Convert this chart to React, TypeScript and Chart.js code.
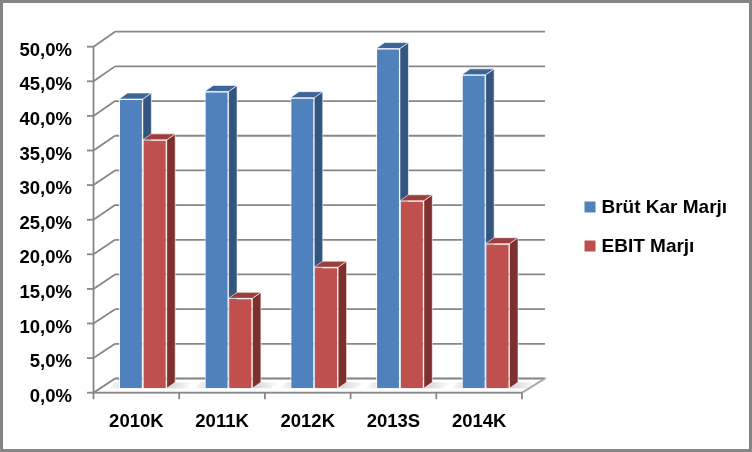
import React, { useEffect, useRef } from "react";
import { Chart, registerables } from "chart.js";

Chart.register(...registerables);

const categories = ["2010K", "2011K", "2012K", "2013S", "2014K"];
const brutKarMarji = [41.8, 42.9, 42.0, 49.1, 45.3];
const ebitMarji = [35.9, 13.0, 17.5, 27.1, 20.9];
const seriesNames = ["Brüt Kar Marjı", "EBIT Marjı"];
const yTickLabels = ["0,0%", "5,0%", "10,0%", "15,0%", "20,0%", "25,0%", "30,0%", "35,0%", "40,0%", "45,0%", "50,0%"];

const FRONT = ["#4F81BD", "#C0504D"];
const SIDE = ["#34557F", "#7E302E"];
const TOP = ["#3D659A", "#9C3E3B"];
const GRID = "#878787";
const FONT = "'Liberation Sans', Arial, sans-serif";

// 3D geometry (pixels)
const WALL_DX_L = 21.5;
const WALL_DX_R = 23;
const WALL_DY_TOP = -15;
const WALL_DY_BOTTOM = -14.2;
const BAR_SHIFT_X = 6.5;
const BAR_SHIFT_Y = -4.4;
const BAR_DEPTH_X = 8.5;
const BAR_DEPTH_Y = -6;

const threeD = {
  id: "threeD",
  beforeDatasetsDraw(chart: any) {
    const ctx = chart.ctx;
    const { left, right, top, bottom } = chart.chartArea;
    const y = chart.scales.y;
    const x = chart.scales.x;
    const dyAt = (fy: number) => {
      const t = (fy - top) / (bottom - top);
      return WALL_DY_TOP + t * (WALL_DY_BOTTOM - WALL_DY_TOP);
    };
    ctx.save();
    // floor
    ctx.beginPath();
    ctx.moveTo(left, bottom);
    ctx.lineTo(right, bottom);
    ctx.lineTo(right + WALL_DX_R, bottom + WALL_DY_BOTTOM);
    ctx.lineTo(left + WALL_DX_L, bottom + WALL_DY_BOTTOM);
    ctx.closePath();
    ctx.fillStyle = "#ffffff";
    ctx.fill();
    ctx.strokeStyle = "#c4c4c4";
    ctx.lineWidth = 1.5;
    ctx.stroke();

    // back wall gridlines + left wall diagonals + front ticks
    ctx.strokeStyle = GRID;
    ctx.lineWidth = 1.8;
    y.ticks.forEach((tk: any) => {
      const fy = y.getPixelForValue(tk.value);
      const by = fy + dyAt(fy);
      ctx.beginPath();
      ctx.moveTo(left + WALL_DX_L, by);
      ctx.lineTo(right + WALL_DX_R, by);
      ctx.stroke();
      ctx.beginPath();
      ctx.moveTo(left, fy);
      ctx.lineTo(left + WALL_DX_L, by);
      ctx.stroke();
      ctx.beginPath();
      ctx.moveTo(left - 6.5, fy);
      ctx.lineTo(left, fy);
      ctx.stroke();
    });
    // front vertical axis
    ctx.beginPath();
    ctx.moveTo(left, top);
    ctx.lineTo(left, bottom);
    ctx.stroke();
    // front horizontal axis
    ctx.beginPath();
    ctx.moveTo(left, bottom);
    ctx.lineTo(right, bottom);
    ctx.stroke();
    // category tick marks
    const n = categories.length;
    for (let i = 0; i <= n; i++) {
      const px = i < n ? x.getPixelForValue(i) - (x.getPixelForValue(1) - x.getPixelForValue(0)) / 2 : right;
      ctx.beginPath();
      ctx.moveTo(px, bottom);
      ctx.lineTo(px, bottom + 6.5);
      ctx.stroke();
    }
    // right floor edge
    ctx.strokeStyle = "#a8a8a8";
    ctx.beginPath();
    ctx.moveTo(right, bottom);
    ctx.lineTo(right + WALL_DX_R, bottom + WALL_DY_BOTTOM);
    ctx.stroke();
    ctx.restore();

    // shift into depth for bars
    ctx.save();
    ctx.translate(BAR_SHIFT_X, BAR_SHIFT_Y);

    // floor shadows
    const meta0 = chart.getDatasetMeta(0);
    const meta1 = chart.getDatasetMeta(1);
    for (let i = 0; i < n; i++) {
      const b = meta0.data[i].getProps(["x", "width", "base"], true);
      const r = meta1.data[i].getProps(["x", "width", "base"], true);
      const rx = r.x + r.width / 2;
      const base = r.base;
      const g = ctx.createLinearGradient(rx, 0, rx + 26, 0);
      g.addColorStop(0, "rgba(120,120,120,0.35)");
      g.addColorStop(1, "rgba(120,120,120,0)");
      ctx.fillStyle = g;
      ctx.beginPath();
      ctx.moveTo(rx, base);
      ctx.lineTo(rx + BAR_DEPTH_X, base + BAR_DEPTH_Y);
      ctx.lineTo(rx + BAR_DEPTH_X + 22, base + BAR_DEPTH_Y);
      ctx.lineTo(rx + 18, base);
      ctx.closePath();
      ctx.fill();
      const lx = b.x - b.width / 2;
      const g2 = ctx.createLinearGradient(lx - 14, 0, lx, 0);
      g2.addColorStop(0, "rgba(150,150,150,0)");
      g2.addColorStop(1, "rgba(150,150,150,0.22)");
      ctx.fillStyle = g2;
      ctx.beginPath();
      ctx.moveTo(lx - 10, base);
      ctx.lineTo(lx, base);
      ctx.lineTo(lx + BAR_DEPTH_X, base + BAR_DEPTH_Y);
      ctx.lineTo(lx - 4, base + BAR_DEPTH_Y);
      ctx.closePath();
      ctx.fill();
    }

    // side & top faces
    for (let i = 0; i < n; i++) {
      [0, 1].forEach((d) => {
        const el = chart.getDatasetMeta(d).data[i];
        const p = el.getProps(["x", "y", "width", "base"], true);
        const l = p.x - p.width / 2;
        const rr = p.x + p.width / 2;
        const tp = p.y;
        const bt = p.base;
        ctx.lineWidth = 0.8;
        ctx.strokeStyle = "rgba(255,255,255,0.75)";
        // side
        ctx.beginPath();
        ctx.moveTo(rr, tp);
        ctx.lineTo(rr + BAR_DEPTH_X, tp + BAR_DEPTH_Y);
        ctx.lineTo(rr + BAR_DEPTH_X, bt + BAR_DEPTH_Y);
        ctx.lineTo(rr, bt);
        ctx.closePath();
        ctx.fillStyle = SIDE[d];
        ctx.fill();
        ctx.stroke();
        // top
        ctx.beginPath();
        ctx.moveTo(l, tp);
        ctx.lineTo(l + BAR_DEPTH_X, tp + BAR_DEPTH_Y);
        ctx.lineTo(rr + BAR_DEPTH_X, tp + BAR_DEPTH_Y);
        ctx.lineTo(rr, tp);
        ctx.closePath();
        ctx.fillStyle = TOP[d];
        ctx.fill();
        ctx.stroke();
      });
    }
  },
  afterDatasetsDraw(chart: any) {
    chart.ctx.restore();
  },
  afterDraw(chart: any) {
    const ctx = chart.ctx;
    ctx.save();
    // legend
    const items = chart.data.datasets;
    const lx = 584.5;
    const ys = [207, 246];
    items.forEach((ds: any, i: number) => {
      ctx.fillStyle = ds.backgroundColor;
      ctx.fillRect(lx, ys[i] - 5.5, 11, 11);
      ctx.fillStyle = "#000";
      ctx.font = `bold 19px ${FONT}`;
      ctx.textBaseline = "middle";
      ctx.textAlign = "left";
      ctx.fillText(ds.label, 601.5, ys[i] + 1);
    });
    // outer border
    ctx.strokeStyle = "#868686";
    ctx.lineWidth = 3;
    ctx.strokeRect(1.5, 1.5, chart.width - 3, chart.height - 3);
    ctx.restore();
  },
};

export default function App() {
  const ref = useRef<HTMLCanvasElement | null>(null);
  useEffect(() => {
    document.body.style.margin = "0";
    const c = ref.current;
    if (!c) return;
    const chart = new Chart(c, {
      type: "bar",
      data: {
        labels: categories,
        datasets: [
          {
            label: seriesNames[0],
            data: brutKarMarji,
            backgroundColor: FRONT[0],
            borderColor: "rgba(255,255,255,0.85)",
            borderWidth: 1,
            categoryPercentage: 0.557,
            barPercentage: 1,
            clip: false,
          } as any,
          {
            label: seriesNames[1],
            data: ebitMarji,
            backgroundColor: FRONT[1],
            borderColor: "rgba(255,255,255,0.85)",
            borderWidth: 1,
            categoryPercentage: 0.557,
            barPercentage: 1,
            clip: false,
          } as any,
        ],
      },
      options: {
        animation: false,
        responsive: false,
        devicePixelRatio: 1,
        layout: { padding: { left: 0, top: 46.7, right: 230, bottom: 0 } },
        plugins: { legend: { display: false }, tooltip: { enabled: false } },
        scales: {
          x: {
            grid: { display: false, drawTicks: false },
            border: { display: false },
            ticks: {
              color: "#000",
              font: { family: FONT, size: 18.5, weight: "bold" },
              padding: 18,
              maxRotation: 0,
            },
            afterFit: (s: any) => {
              s.height = 452 - 392.7;
            },
          },
          y: {
            min: 0,
            max: 50,
            grid: { display: false, drawTicks: false },
            border: { display: false },
            ticks: {
              stepSize: 5,
              color: "#000",
              font: { family: FONT, size: 18.5, weight: "bold" },
              padding: 21.5,
              labelOffset: 4,
              callback: (_v: any, i: number) => yTickLabels[i],
            },
            afterFit: (s: any) => {
              s.width = 93.5;
            },
          },
        },
      },
      plugins: [threeD],
    });
    return () => chart.destroy();
  }, []);
  return (
    <div style={{ position: "absolute", left: 0, top: 0, width: 752, height: 452, background: "#fff" }}>
      <canvas ref={ref} width={752} height={452} />
    </div>
  );
}
